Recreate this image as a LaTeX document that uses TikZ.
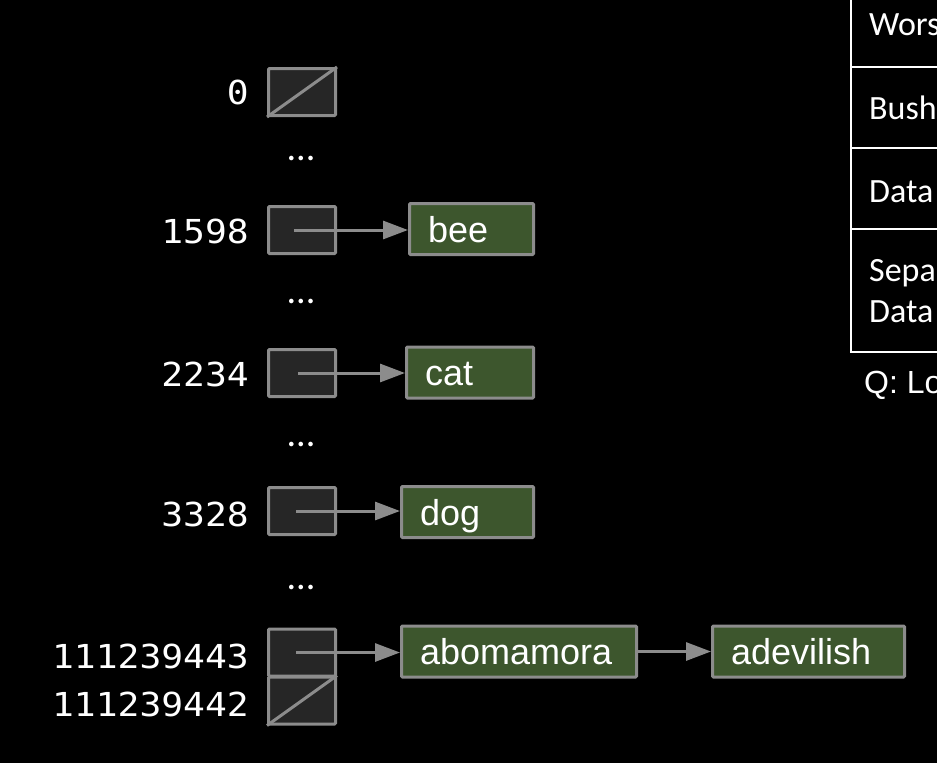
\documentclass[tikz,border=0pt]{standalone}
\usepackage{fontspec}
\setmainfont{Liberation Sans}
\newfontfamily\monof[FakeStretch=1.1]{DejaVu Sans Mono}
\newfontfamily\calf{Carlito}
\usetikzlibrary{arrows.meta}
\definecolor{edge}{RGB}{140,140,140}
\definecolor{cellfill}{RGB}{38,38,38}
\definecolor{wordfill}{RGB}{61,86,45}
\tikzset{
  cell/.style={draw=edge, fill=cellfill, line width=3pt, minimum width=67pt, minimum height=47pt, inner sep=0pt, rounded corners=1pt},
  word/.style={draw=edge, fill=wordfill, line width=3pt, minimum height=51pt, text=white,
     font=\fontsize{36}{40}\selectfont, inner xsep=18.5pt, inner ysep=0pt, align=left,
     text height=26pt, text depth=0pt, anchor=west, rounded corners=1pt},
  idx/.style={text=white, font=\monof\fontsize{33}{38}\selectfont, anchor=east, inner sep=0pt},
  dots/.style={text=white, font=\calf\fontsize{38}{40}\selectfont, inner sep=0pt},
  ptr/.style={draw=edge, line width=3pt, -{Triangle[length=25pt,width=18pt]}},
  slash/.style={draw=edge, line width=3pt},
  tline/.style={draw=white, line width=1.5pt},
  ttext/.style={text=white, font=\calf\fontsize{34}{40}\selectfont, anchor=base west, inner sep=0pt},
}
\begin{document}
\begin{tikzpicture}[x=1pt, y=-1pt]
\useasboundingbox (0,0) rectangle (937,763);
\fill[black] (0,0) rectangle (937,763);
\clip (0,0) rectangle (937,763);

% hash table cells
\node[cell] (c0) at (302,92) {};
\node[cell] (c1598) at (302,230) {};
\node[cell] (c2234) at (302,373) {};
\node[cell] (c3328) at (302,511) {};
\node[cell] (cA) at (302,652.5) {};
\node[cell] (cB) at (302,700.5) {};
\draw[slash] (c0.south west) -- (c0.north east);
\draw[slash] (cB.south west) -- (cB.north east);

% index labels
\node[idx] (l0) at (249,92) {0};
\node[idx] (l1598) at (249,231) {1598};
\node[idx] (l2234) at (249,374) {2234};
\node[idx] (l3328) at (249,514) {3328};
\node[idx] (lA) at (249,656) {111239443};
\node[idx] (lB) at (249,704) {111239442};

% dots
\node[dots] (d1) at (301,158) {...};
\node[dots] (d2) at (301,301) {...};
\node[dots] (d3) at (301,444) {...};
\node[dots] (d4) at (301,587) {...};

% word boxes
\node[word, text width=87pt] (bee) at (408,229) {bee};
\node[word, text width=90pt] (cat) at (405,372.5) {cat};
\node[word, text width=95pt] (dog) at (400,512) {dog};
\node[word, text width=198pt] (abo) at (400,651.5) {abomamora};
\node[word, text width=155pt] (adev) at (711,651.5) {adevilish};

% pointers
\draw[ptr] ([xshift=-8pt]c1598.center) -- (c1598.center -| bee.west);
\draw[ptr] ([xshift=-4pt]c2234.center) -- (c2234.center -| cat.west);
\draw[ptr] ([xshift=-6pt]c3328.center) -- (c3328.center -| dog.west);
\draw[ptr] ([xshift=-6pt]cA.center) -- (cA.center -| abo.west);
\draw[ptr] (abo.east) -- (adev.west);

% table fragment on the right
\draw[tline] (851,-2) -- (851,352) -- (940,352);
\draw[tline] (851,67) -- (940,67);
\draw[tline] (851,148) -- (940,148);
\draw[tline] (851,229) -- (940,229);
\node[ttext] (t1) at (869,35) {Wors};
\node[ttext] (t2) at (869,119) {Bush};
\node[ttext] (t3) at (869,202) {Data};
\node[ttext] (t4) at (869,281) {Sepa};
\node[ttext] (t5) at (869,322) {Data};
\node[text=white, font=\fontsize{32}{36}\selectfont, anchor=base west, inner sep=0pt] (q) at (864,393) {Q: Lo};
\end{tikzpicture}
\end{document}
